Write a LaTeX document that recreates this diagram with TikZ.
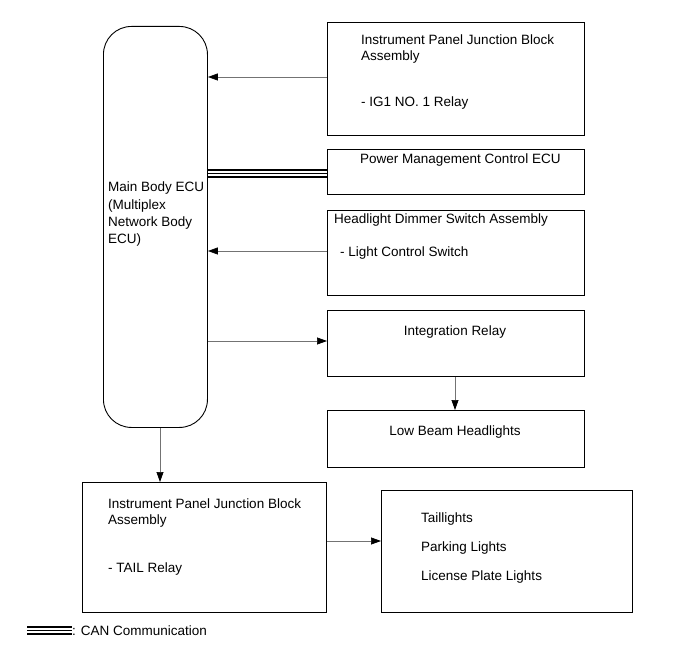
\documentclass[tikz,border=0pt]{standalone}
\usepackage{fontspec}
\setmainfont{Liberation Sans}
\usetikzlibrary{arrows.meta}
\begin{document}
\begin{tikzpicture}[x=1pt,y=-1pt,
  box/.style={draw=black,line width=0.9pt,minimum width=#1,inner sep=0pt,anchor=north west,rectangle},
  lbl/.style={anchor=base west,inner sep=0pt,font=\fontsize{13.5}{16}\selectfont},
  clbl/.style={anchor=base,inner sep=0pt,font=\fontsize{13.5}{16}\selectfont},
  conn/.style={draw=black!55,line width=0.7pt,-{Triangle[length=10pt,width=7pt,fill=black,color=black]}},
  canline/.style={line width=1.3pt}]
\useasboundingbox (0,0) rectangle (691,660);
% Main ECU
\node[draw=black,line width=0.9pt,rounded corners=28pt,minimum width=104pt,minimum height=401pt,inner sep=0pt,anchor=north west] (ecu) at (103,26) {};
\node[lbl] (ecut1) at (108,192) {Main Body ECU};
\node[lbl] (ecut2) at (108,210) {(Multiplex};
\node[lbl] (ecut3) at (108,227) {Network Body};
\node[lbl] (ecut4) at (108,244) {ECU)};
% Box 1
\node[box=257pt,minimum height=113pt] (b1) at (327,22) {};
\node[lbl] (b1t1) at (361,45) {Instrument Panel Junction Block};
\node[lbl] (b1t2) at (361,61) {Assembly};
\node[lbl] (b1t3) at (361,107) {- IG1 NO. 1 Relay};
% Box 2
\node[box=257pt,minimum height=45pt] (b2) at (327,149) {};
\node[lbl] (b2t1) at (360,164) {Power Management Control ECU};
% Box 3
\node[box=257pt,minimum height=85pt] (b3) at (327,210) {};
\node[lbl] (b3t1) at (334,224) {Headlight Dimmer Switch Assembly};
\node[lbl] (b3t2) at (340,257) {- Light Control Switch};
% Box 4
\node[box=257pt,minimum height=66pt] (b4) at (327,310) {};
\node[clbl] (b4t1) at (455,336) {Integration Relay};
% Box 5
\node[box=257pt,minimum height=57pt] (b5) at (327,410) {};
\node[clbl] (b5t1) at (455,435) {Low Beam Headlights};
% Box 6
\node[box=244pt,minimum height=130pt] (b6) at (82,482) {};
\node[lbl] (b6t1) at (108,508) {Instrument Panel Junction Block};
\node[lbl] (b6t2) at (108,524) {Assembly};
\node[lbl] (b6t3) at (108,572) {- TAIL Relay};
% Box 7
\node[box=251pt,minimum height=122pt] (b7) at (381,490) {};
\node[lbl] (b7t1) at (421,522) {Taillights};
\node[lbl] (b7t2) at (421,551) {Parking Lights};
\node[lbl] (b7t3) at (421,580) {License Plate Lights};
% connectors
\draw[conn] (b1.west |- 0,77) -- (ecu.east |- 0,77);
\draw[conn] (b3.west |- 0,251) -- (ecu.east |- 0,251);
\draw[conn] (ecu.east |- 0,341) -- (b4.west |- 0,341);
\draw[conn] (b4t1 |- b4.south) -- (b4t1 |- b5.north);
\draw[conn] (ecu.south -| 160,0) -- (b6.north -| 160,0);
\draw[conn] (b6.east |- 0,541) -- (b7.west |- 0,541);
% CAN
\foreach \yy in {170,173.5,177}{
  \draw[canline] (ecu.east |- 0,\yy) -- (b2.west |- 0,\yy);
}
% legend
\coordinate (lg1) at (27,0);
\coordinate (lg2) at (72,0);
\foreach \yy in {627,630.5,634}{
  \draw[line width=1.1pt] (lg1 |- 0,\yy) -- (lg2 |- 0,\yy);
}
\node[lbl] (legt) at (72,635) {: CAN Communication};
\end{tikzpicture}
\end{document}
